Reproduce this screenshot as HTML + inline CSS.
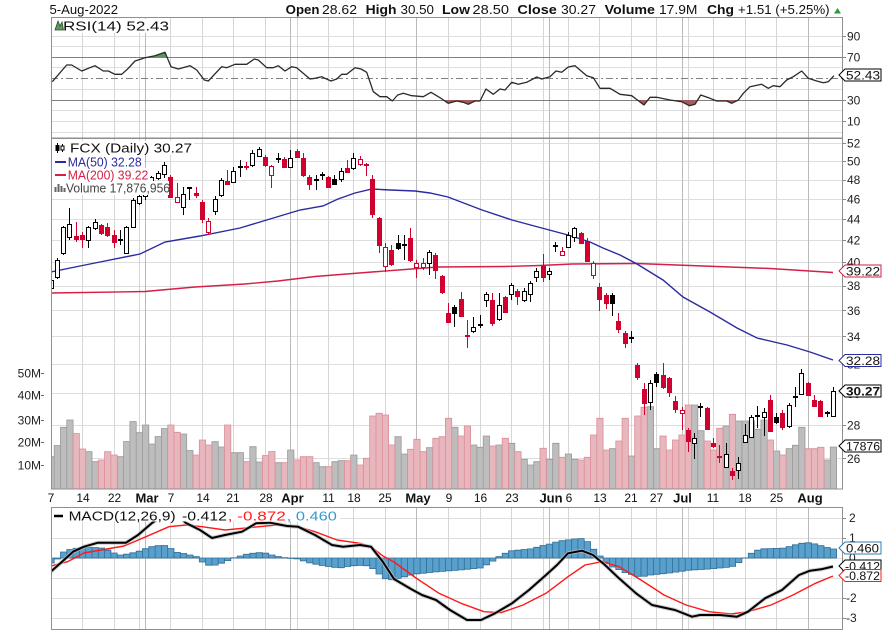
<!DOCTYPE html>
<html><head><meta charset="utf-8"><style>
html,body{margin:0;padding:0;background:#fff;}
svg{display:block;font-family:"Liberation Sans",Arial,sans-serif;}
</style></head><body>
<svg width="882" height="630" viewBox="0 0 882 630" xmlns="http://www.w3.org/2000/svg">
<defs>
<clipPath id="cp"><rect x="51" y="138" width="792" height="351"/></clipPath>
<clipPath id="cr"><rect x="51" y="17" width="792" height="121"/></clipPath>
<clipPath id="cm"><rect x="51" y="507" width="792" height="123"/></clipPath>
</defs>
<rect width="882" height="630" fill="#fff"/>

<!-- horizontal grid -->
<path fill="none" stroke="#dedede" stroke-width="1" shape-rendering="crispEdges" d="M51 36.5H843M51 46.5H843M51 67.5H843M51 89.5H843M51 110.5H843M51 121.5H843M51 132.5H843
M51 143.5H843M51 161.5H843M51 180.5H843M51 199.5H843M51 219.5H843M51 240.5H843M51 262.5H843M51 286.5H843M51 310.5H843M51 336.5H843M51 364.5H843M51 393.5H843M51 425.5H843M51 458.5H843
M51 518.5H843M51 538.5H843M51 558.5H843M51 578.5H843M51 598.5H843M51 618.5H843"/>
<!-- vertical grid weekly -->
<path fill="none" stroke="#d6d6d6" stroke-width="1" shape-rendering="crispEdges" d="M82.5 17V489M114.5 17V489M139.5 17V489M170.5 17V489M202.5 17V489M233.5 17V489M265.5 17V489M297.5 17V489M328.5 17V489M353.5 17V489M385.5 17V489M448.5 17V489M480.5 17V489M511.5 17V489M543.5 17V489M568.5 17V489M599.5 17V489M631.5 17V489M656.5 17V489M688.5 17V489M713.5 17V489M745.5 17V489M776.5 17V489
M82.5 507V630M114.5 507V630M139.5 507V630M170.5 507V630M202.5 507V630M233.5 507V630M265.5 507V630M297.5 507V630M328.5 507V630M353.5 507V630M385.5 507V630M448.5 507V630M480.5 507V630M511.5 507V630M543.5 507V630M568.5 507V630M599.5 507V630M631.5 507V630M656.5 507V630M688.5 507V630M713.5 507V630M745.5 507V630M776.5 507V630"/>
<!-- vertical grid monthly -->
<path fill="none" stroke="#b9b9b9" stroke-width="1" shape-rendering="crispEdges" d="M145.5 17V489M290.5 17V489M416.5 17V489M549.5 17V489M682.5 17V489M808.5 17V489M145.5 507V630M290.5 507V630M416.5 507V630M549.5 507V630M682.5 507V630M808.5 507V630"/>

<!-- RSI panel -->
<g clip-path="url(#cr)">
<path d="M51 57.5H843M51 100.5H843" stroke="#808080" stroke-width="1" shape-rendering="crispEdges"/>
<path d="M51 78.5H843" stroke="#808080" stroke-width="1" stroke-dasharray="7 3 2 3"/>
<polygon points="147,57.3 155,55.7 165,52.3 167.1,57.3" fill="#5f955f"/>
<g fill="#a35a5c">
<polygon points="391,100 392.3,101 393.2,100"/>
<polygon points="442.8,100 448.3,103.3 456.7,101 463.3,102.3 468.3,104.3 475,101 480,101 480.5,100"/>
<polygon points="637.4,100 644,105 647.9,100"/>
<polygon points="670,100 681.7,101.7 689.3,105.7 695,104.3 697.6,100"/>
<polygon points="714.2,100 716.7,101 726.7,101 731.7,103.3 738.3,100"/>
</g>
<polyline fill="none" stroke="#2a2a2a" stroke-width="1.3" stroke-linejoin="round" points="52.3,81.7 66.7,65 71.7,65 81.7,71 95,65.7 103.3,71 108.3,71 115,74.3 121.7,74.3 128.3,68.3 135,61 145,57.7 155,55.7 165,52.3 171,66.7 178.3,69 190,65.7 196.7,70 204.3,80 208.3,81 221.7,66.7 226.7,67.7 235,64.3 246.7,64.3 254.3,59 258.3,60 266.7,67.7 273.3,67.7 278.3,65.7 285,71 291.7,66.7 296.7,67.7 310,79 315,78.3 321.7,76.7 325,78.3 331,81 336.7,79 341.7,74.3 346.7,74.3 355,67.7 361,69 366.7,72.3 373.3,91.7 380,96.7 386.7,96.7 392.3,101 397.7,95 403.3,93.3 411.7,95.7 423.3,96.7 431,92.3 438.3,96.7 442,99 448.3,103.3 456.7,101 463.3,102.3 468.3,104.3 475,101 480,101 486,89 493.3,94.3 500,89 505,90 511.7,82.3 518.3,84.3 526.7,82.3 536.7,77 541.7,79 550,76.7 556,71 561.7,72.3 568.3,67 575,65.7 586.7,75.7 593.3,77.7 600,88.3 610,88.3 620,94.3 631.7,95.7 644,105 650,97.3 656.7,97.3 670,100 681.7,101.7 689.3,105.7 695,104.3 700.7,95 710,98.3 716.7,101 726.7,101 731.7,103.3 738.3,100 743.3,93.3 750,86.7 761.7,84.3 768.3,88.3 773.3,85.7 780,86.7 786.7,80 793.3,76.7 801.7,71 808.3,78.3 816.7,81 823.3,82.7 828.3,81.7 834,75.7"/>
</g>

<!-- Price panel -->
<g clip-path="url(#cp)">
<!-- volume gray -->
<path fill="#bdbdbd" stroke="#999" stroke-width="0.8" d="M47.9 489V456.7h6.3V489zM54.2 489V445.5h6.3V489zM60.5 489V427.3h6.3V489zM66.8 489V420h6.3V489zM85.7 489V451.7h6.3V489zM92 489V461.7h6.3V489zM117.3 489V456.7h6.3V489zM123.6 489V441.5h6.3V489zM129.9 489V421.5h6.3V489zM136.2 489V432.7h6.3V489zM142.5 489V425h6.3V489zM148.8 489V444h6.3V489zM155.1 489V436.5h6.3V489zM161.4 489V428.5h6.3V489zM180.4 489V434h6.3V489zM186.7 489V450.5h6.3V489zM211.9 489V441.7h6.3V489zM218.2 489V447h6.3V489zM230.8 489V452.7h6.3V489zM237.2 489V452.7h6.3V489zM249.8 489V446.7h6.3V489zM256.1 489V462h6.3V489zM275 489V462.7h6.3V489zM287.6 489V450h6.3V489zM312.9 489V462.7h6.3V489zM319.2 489V466.7h6.3V489zM331.8 489V461.7h6.3V489zM338.1 489V460.7h6.3V489zM350.7 489V455h6.3V489zM394.9 489V436.7h6.3V489zM401.2 489V454h6.3V489zM426.5 489V447.7h6.3V489zM451.7 489V427.3h6.3V489zM470.6 489V445h6.3V489zM476.9 489V447.3h6.3V489zM483.2 489V436h6.3V489zM495.9 489V445h6.3V489zM508.5 489V443.3h6.3V489zM521.1 489V459.3h6.3V489zM527.4 489V465h6.3V489zM533.7 489V461.7h6.3V489zM546.3 489V459.3h6.3V489zM552.7 489V443.3h6.3V489zM565.3 489V454h6.3V489zM571.6 489V459.3h6.3V489zM609.4 489V448.7h6.3V489zM628.4 489V456h6.3V489zM647.3 489V406.7h6.3V489zM653.6 489V448.7h6.3V489zM691.5 489V405h6.3V489zM697.8 489V430.7h6.3V489zM723 489V426h6.3V489zM735.6 489V421h6.3V489zM742 489V421h6.3V489zM748.3 489V421h6.3V489zM754.6 489V429.3h6.3V489zM760.9 489V420h6.3V489zM773.5 489V451h6.3V489zM786.1 489V448.7h6.3V489zM792.4 489V445.3h6.3V489zM798.7 489V427.3h6.3V489zM824 489V460h6.3V489zM830.3 489V447h6.3V489z"/>
<!-- volume red -->
<path fill="#e8b6bd" stroke="#dc8d98" stroke-width="0.8" d="M73.1 489V433.5h6.3V489zM79.4 489V449h6.3V489zM98.3 489V460h6.3V489zM104.6 489V451.7h6.3V489zM110.9 489V455h6.3V489zM167.7 489V425h6.3V489zM174 489V432.3h6.3V489zM193 489V455h6.3V489zM199.3 489V440h6.3V489zM205.6 489V445h6.3V489zM224.5 489V425h6.3V489zM243.5 489V461.7h6.3V489zM262.4 489V455.5h6.3V489zM268.7 489V451.5h6.3V489zM281.3 489V462.7h6.3V489zM293.9 489V460h6.3V489zM300.3 489V456.7h6.3V489zM306.6 489V456.7h6.3V489zM325.5 489V466.7h6.3V489zM344.4 489V460.7h6.3V489zM357 489V465h6.3V489zM363.4 489V458.3h6.3V489zM369.7 489V416h6.3V489zM376 489V413.3h6.3V489zM382.3 489V415h6.3V489zM388.6 489V445h6.3V489zM407.5 489V449.3h6.3V489zM413.8 489V439.3h6.3V489zM420.1 489V451.7h6.3V489zM432.8 489V438.3h6.3V489zM439.1 489V436.7h6.3V489zM445.4 489V418.3h6.3V489zM458 489V436h6.3V489zM464.3 489V426h6.3V489zM489.6 489V446h6.3V489zM502.2 489V438.3h6.3V489zM514.8 489V451.7h6.3V489zM540 489V448.3h6.3V489zM559 489V457.3h6.3V489zM577.9 489V460h6.3V489zM584.2 489V457.3h6.3V489zM590.5 489V435h6.3V489zM596.8 489V418.3h6.3V489zM603.1 489V450h6.3V489zM615.8 489V441h6.3V489zM622.1 489V418.3h6.3V489zM634.7 489V416h6.3V489zM641 489V407.3h6.3V489zM659.9 489V436h6.3V489zM666.2 489V450h6.3V489zM672.5 489V440h6.3V489zM678.9 489V435h6.3V489zM685.2 489V405h6.3V489zM704.1 489V441h6.3V489zM710.4 489V450h6.3V489zM716.7 489V428.3h6.3V489zM729.3 489V414.3h6.3V489zM767.2 489V440h6.3V489zM779.8 489V455h6.3V489zM805.1 489V448.7h6.3V489zM811.4 489V448.7h6.3V489zM817.7 489V447.3h6.3V489z"/>
<!-- MA lines -->
<polyline fill="none" stroke="#d41f46" stroke-width="1.4" points="51,293 145,291.5 195,287 245,284 278,281 315,276.5 372,272 405,269.5 438,267 505,266.5 540,265.5 572,264 637,263.5 703,266 770,268.5 833,272.5"/>
<polyline fill="none" stroke="#2b2ba0" stroke-width="1.4" points="51,272 80,266 100,262 140,254 165,242 200,236 240,228 270,219 300,210 323,206 338,199 355,193 372,189 390,190 415,191 430,193 448,197 482,210 512,220 538,227 568,235 590,242 603,248 620,255 637,264 663,280 683,297 710,312 737,328 757,338 787,345 810,352 833,360"/>
<!-- black wicks -->
<path fill="none" stroke="#000" stroke-width="1" shape-rendering="crispEdges" d="M51.5 276V290M57.5 258V279M63.5 226V255M69.5 208V240M88.5 226V248M95.5 219V230M126.5 226V254M133.5 198V228M139.5 194V205M145.5 185V200M151.5 176V184M158.5 171V180M164.5 162V178M183.5 187V215M215.5 196V215M221.5 178V197M233.5 167V183M252.5 150V167M259.5 147V157M290.5 150V168M341.5 168V182M353.5 153V170M429.5 250V275M473.5 317V333M486.5 292V307M499.5 293V321M511.5 283V300M524.5 288V302M530.5 281V302M536.5 268V282M549.5 268V280M568.5 232V248M574.5 227V242M650.5 380V410M694.5 433V459M726.5 443V468M738.5 457V479M745.5 424V443M751.5 415V438M764.5 408V436M789.5 403V428M801.5 369V395M833.5 387V417M334.5 175V185M398.5 235V250M454.5 305V327M612.5 293V316M656.5 372V387M776.5 413V424M120.5 230V245M189.5 187V200M240.5 160V177M278.5 153V163M316.5 175V190M322.5 172V180M404.5 235V260M480.5 315V328M555.5 242V252M631.5 331V343M700.5 403V417M757.5 406V428M795.5 387V407M827.5 411V417"/>
<path fill="none" stroke="#000" stroke-width="2" d="M118 240h5M187 188h5M238 167h5M276 159h5M314 180h5M320 175h5M402 245h5M478 325h5M553 246h5M629 338h5M698 407h5M755 416h5M793 397h5M825 413h5"/>
<!-- red wicks -->
<path fill="none" stroke="#d0002f" stroke-width="1" shape-rendering="crispEdges" d="M177.5 183V203M208.5 218V235M271.5 165V188M360.5 156V166M385.5 243V272M416.5 260V278M423.5 258V270M562.5 247V256M593.5 261V279M682.5 407V430M76.5 222V242M82.5 232V248M101.5 224V235M107.5 223V237M114.5 230V248M170.5 175V198M196.5 187V198M202.5 200V223M227.5 170V185M265.5 155V167M284.5 157V168M297.5 149V158M303.5 153V177M309.5 175V190M328.5 176V188M347.5 160V173M372.5 175V218M379.5 217V253M391.5 245V266M410.5 228V262M435.5 253V279M442.5 275V294M448.5 303V323M461.5 292V317M492.5 293V326M505.5 296V313M517.5 289V305M543.5 254V282M581.5 232V244M587.5 238V262M599.5 283V311M606.5 293V309M618.5 313V333M625.5 331V348M637.5 363V380M644.5 383V415M663.5 363V389M669.5 377V397M675.5 396V413M688.5 428V452M707.5 407V430M713.5 438V448M732.5 468V480M770.5 395V432M782.5 410V430M808.5 382V396M814.5 395V407M820.5 400V417M246.5 162V170M366.5 163V176M467.5 320V348M719.5 445V463"/>
<path fill="none" stroke="#d0002f" stroke-width="2" d="M244 167h5M364 165h5M465 336h5M717 457h5"/>
<!-- black hollow bodies -->
<g fill="#fff" stroke="#000" stroke-width="1" shape-rendering="crispEdges">
<rect x="49.5" y="280.5" width="4" height="8"/><rect x="55.5" y="260.5" width="4" height="17"/><rect x="61.5" y="227.5" width="4" height="26"/><rect x="67.5" y="224.5" width="4" height="13"/><rect x="86.5" y="227.5" width="4" height="13"/><rect x="93.5" y="222.5" width="4" height="6"/><rect x="124.5" y="227.5" width="4" height="26"/><rect x="131.5" y="200.5" width="4" height="27"/><rect x="137.5" y="196.5" width="4" height="7"/><rect x="143.5" y="188.5" width="4" height="8"/><rect x="149.5" y="177.5" width="4" height="5"/><rect x="156.5" y="173.5" width="4" height="5"/><rect x="162.5" y="165.5" width="4" height="9"/><rect x="181.5" y="194.5" width="4" height="13"/><rect x="213.5" y="199.5" width="4" height="12"/><rect x="219.5" y="180.5" width="4" height="15"/><rect x="231.5" y="171.5" width="4" height="11"/><rect x="250.5" y="153.5" width="4" height="12"/><rect x="257.5" y="149.5" width="4" height="7"/><rect x="288.5" y="158.5" width="4" height="9"/><rect x="339.5" y="171.5" width="4" height="8"/><rect x="351.5" y="158.5" width="4" height="10"/><rect x="427.5" y="252.5" width="4" height="11"/><rect x="471.5" y="327.5" width="4" height="4"/><rect x="484.5" y="294.5" width="4" height="6"/><rect x="497.5" y="305.5" width="4" height="14"/><rect x="509.5" y="285.5" width="4" height="9"/><rect x="522.5" y="291.5" width="4" height="9"/><rect x="528.5" y="283.5" width="4" height="11"/><rect x="534.5" y="271.5" width="4" height="6"/><rect x="547.5" y="271.5" width="4" height="3"/><rect x="566.5" y="235.5" width="4" height="12"/><rect x="572.5" y="228.5" width="4" height="9"/><rect x="648.5" y="383.5" width="4" height="19"/><rect x="692.5" y="438.5" width="4" height="5"/><rect x="724.5" y="454.5" width="4" height="13"/><rect x="736.5" y="463.5" width="4" height="7"/><rect x="743.5" y="435.5" width="4" height="7"/><rect x="749.5" y="417.5" width="4" height="20"/><rect x="762.5" y="412.5" width="4" height="5"/><rect x="787.5" y="405.5" width="4" height="21"/><rect x="799.5" y="373.5" width="4" height="21"/><rect x="831.5" y="391.5" width="4" height="25"/>
</g>
<!-- black filled -->
<g fill="#000" stroke="#000" stroke-width="1" shape-rendering="crispEdges">
<rect x="332.5" y="179.5" width="4" height="5"/><rect x="396.5" y="243.5" width="4" height="5"/><rect x="452.5" y="307.5" width="4" height="6"/><rect x="610.5" y="295.5" width="4" height="8"/><rect x="654.5" y="374.5" width="4" height="8"/><rect x="774.5" y="417.5" width="4" height="5"/>
</g>
<!-- red hollow -->
<g fill="#fff" stroke="#d0002f" stroke-width="1" shape-rendering="crispEdges">
<rect x="175.5" y="197.5" width="4" height="5"/><rect x="206.5" y="221.5" width="4" height="11"/><rect x="269.5" y="166.5" width="4" height="9"/><rect x="358.5" y="159.5" width="4" height="5"/><rect x="383.5" y="247.5" width="4" height="19"/><rect x="414.5" y="263.5" width="4" height="4"/><rect x="421.5" y="263.5" width="4" height="4"/><rect x="560.5" y="251.5" width="4" height="4"/><rect x="591.5" y="263.5" width="4" height="12"/><rect x="680.5" y="410.5" width="4" height="3"/>
</g>
<!-- red filled -->
<g fill="#d0002f" stroke="#d0002f" stroke-width="1" shape-rendering="crispEdges">
<rect x="74.5" y="236.5" width="4" height="3"/><rect x="80.5" y="235.5" width="4" height="4"/><rect x="99.5" y="225.5" width="4" height="8"/><rect x="105.5" y="227.5" width="4" height="8"/><rect x="112.5" y="235.5" width="4" height="7"/><rect x="168.5" y="177.5" width="4" height="20"/><rect x="194.5" y="193.5" width="4" height="2"/><rect x="200.5" y="202.5" width="4" height="17"/><rect x="225.5" y="181.5" width="4" height="3"/><rect x="263.5" y="157.5" width="4" height="8"/><rect x="282.5" y="159.5" width="4" height="8"/><rect x="295.5" y="151.5" width="4" height="6"/><rect x="301.5" y="158.5" width="4" height="17"/><rect x="307.5" y="177.5" width="4" height="7"/><rect x="326.5" y="177.5" width="4" height="10"/><rect x="345.5" y="168.5" width="4" height="4"/><rect x="370.5" y="179.5" width="4" height="35"/><rect x="377.5" y="218.5" width="4" height="27"/><rect x="389.5" y="250.5" width="4" height="14"/><rect x="408.5" y="238.5" width="4" height="22"/><rect x="433.5" y="255.5" width="4" height="15"/><rect x="440.5" y="276.5" width="4" height="16"/><rect x="446.5" y="313.5" width="4" height="9"/><rect x="459.5" y="299.5" width="4" height="17"/><rect x="490.5" y="300.5" width="4" height="23"/><rect x="503.5" y="297.5" width="4" height="15"/><rect x="515.5" y="291.5" width="4" height="5"/><rect x="541.5" y="266.5" width="4" height="11"/><rect x="579.5" y="233.5" width="4" height="10"/><rect x="585.5" y="241.5" width="4" height="20"/><rect x="597.5" y="287.5" width="4" height="12"/><rect x="604.5" y="295.5" width="4" height="8"/><rect x="616.5" y="321.5" width="4" height="8"/><rect x="623.5" y="333.5" width="4" height="10"/><rect x="635.5" y="365.5" width="4" height="12"/><rect x="642.5" y="389.5" width="4" height="14"/><rect x="661.5" y="375.5" width="4" height="12"/><rect x="667.5" y="378.5" width="4" height="14"/><rect x="673.5" y="401.5" width="4" height="8"/><rect x="686.5" y="430.5" width="4" height="11"/><rect x="705.5" y="408.5" width="4" height="21"/><rect x="711.5" y="443.5" width="4" height="3"/><rect x="730.5" y="471.5" width="4" height="4"/><rect x="768.5" y="400.5" width="4" height="31"/><rect x="780.5" y="413.5" width="4" height="14"/><rect x="806.5" y="383.5" width="4" height="12"/><rect x="812.5" y="400.5" width="4" height="6"/><rect x="818.5" y="401.5" width="4" height="15"/>
</g>
</g>

<!-- price legend -->
<g>
<rect x="52" y="141" width="142" height="14" fill="#fff"/>
<rect x="52" y="155" width="92" height="13" fill="#fff"/>
<rect x="52" y="168" width="98" height="13" fill="#fff"/>
<rect x="52" y="181" width="117" height="14" fill="#fff"/>
<path d="M57.5 143V153M62.5 144V152" stroke="#000" stroke-width="1"/>
<rect x="55.5" y="145" width="4" height="6" fill="#000"/>
<rect x="61" y="146" width="3" height="4" fill="#fff" stroke="#000" stroke-width="1"/>
<text x="70" y="152.5" font-size="13" textLength="122" lengthAdjust="spacingAndGlyphs" fill="#111">FCX (Daily) 30.27</text>
<path d="M55 162h11" stroke="#2b2ba0" stroke-width="2"/>
<text x="67.7" y="166.5" font-size="13" textLength="74" lengthAdjust="spacingAndGlyphs" fill="#2b2ba0">MA(50) 32.28</text>
<path d="M55 175h11" stroke="#d41f46" stroke-width="2"/>
<text x="67.7" y="179.5" font-size="13" textLength="80.6" lengthAdjust="spacingAndGlyphs" fill="#d41f46">MA(200) 39.22</text>
<path d="M55.5 192V187M58.5 192V184M61.5 192V186M64.5 192V188" stroke="#666" stroke-width="2"/>
<text x="66" y="192.5" font-size="13" textLength="104" lengthAdjust="spacingAndGlyphs" fill="#444">Volume 17,876,956</text>
</g>

<!-- MACD panel -->
<g clip-path="url(#cm)">
<path fill="#5aa0cc" stroke="#2f6e96" stroke-width="0.8" d="M47.9 558V563h6.3V558zM54.2 558V559h6.3V558zM60.5 558V552h6.3V558zM66.8 558V549.5h6.3V558zM73.1 558V548.3h6.3V558zM79.4 558V547.7h6.3V558zM85.7 558V547.5h6.3V558zM92 558V547.5h6.3V558zM98.3 558V548h6.3V558zM104.6 558V550.2h6.3V558zM110.9 558V553h6.3V558zM117.3 558V555h6.3V558zM123.6 558V554.2h6.3V558zM129.9 558V552.8h6.3V558zM136.2 558V551.2h6.3V558zM142.5 558V548.7h6.3V558zM148.8 558V546.7h6.3V558zM155.1 558V545.7h6.3V558zM161.4 558V545.5h6.3V558zM167.7 558V548.5h6.3V558zM174 558V552.4h6.3V558zM180.4 558V553.5h6.3V558zM186.7 558V555h6.3V558zM193 558V556.7h6.3V558zM199.3 558V562h6.3V558zM205.6 558V565.2h6.3V558zM211.9 558V565.1h6.3V558zM218.2 558V563.2h6.3V558zM224.5 558V560.6h6.3V558zM230.8 558V557.8h6.3V558zM237.2 558V556h6.3V558zM243.5 558V554.3h6.3V558zM249.8 558V553.3h6.3V558zM256.1 558V552.7h6.3V558zM262.4 558V553.2h6.3V558zM268.7 558V555h6.3V558zM275 558V556.5h6.3V558zM281.3 558V557.7h6.3V558zM287.6 558V558.3h6.3V558zM293.9 558V558.9h6.3V558zM300.3 558V560.9h6.3V558zM306.6 558V562.9h6.3V558zM312.9 558V564.2h6.3V558zM319.2 558V565.5h6.3V558zM325.5 558V566.5h6.3V558zM331.8 558V567.3h6.3V558zM338.1 558V567.7h6.3V558zM344.4 558V566.5h6.3V558zM350.7 558V565.7h6.3V558zM357 558V565.3h6.3V558zM363.4 558V565.7h6.3V558zM369.7 558V568.6h6.3V558zM376 558V574h6.3V558zM382.3 558V578.7h6.3V558zM388.6 558V579.7h6.3V558zM394.9 558V578.4h6.3V558zM401.2 558V576.8h6.3V558zM407.5 558V575.1h6.3V558zM413.8 558V573.8h6.3V558zM420.1 558V573.2h6.3V558zM426.5 558V572.5h6.3V558zM432.8 558V571.9h6.3V558zM439.1 558V571.4h6.3V558zM445.4 558V570.9h6.3V558zM451.7 558V570.4h6.3V558zM458 558V569.9h6.3V558zM464.3 558V569.2h6.3V558zM470.6 558V568.6h6.3V558zM476.9 558V568h6.3V558zM483.2 558V564.8h6.3V558zM489.6 558V561.1h6.3V558zM495.9 558V556.7h6.3V558zM502.2 558V553.3h6.3V558zM508.5 558V550.8h6.3V558zM514.8 558V550.2h6.3V558zM521.1 558V549.5h6.3V558zM527.4 558V548.9h6.3V558zM533.7 558V547.3h6.3V558zM540 558V545.5h6.3V558zM546.3 558V544.1h6.3V558zM552.7 558V542.1h6.3V558zM559 558V540.7h6.3V558zM565.3 558V539.9h6.3V558zM571.6 558V539h6.3V558zM577.9 558V538.6h6.3V558zM584.2 558V541.6h6.3V558zM590.5 558V549.3h6.3V558zM596.8 558V556h6.3V558zM603.1 558V562.3h6.3V558zM609.4 558V567h6.3V558zM615.8 558V569.6h6.3V558zM622.1 558V572.6h6.3V558zM628.4 558V574.4h6.3V558zM634.7 558V576.3h6.3V558zM641 558V576.2h6.3V558zM647.3 558V575h6.3V558zM653.6 558V574.3h6.3V558zM659.9 558V573.7h6.3V558zM666.2 558V573h6.3V558zM672.5 558V572.1h6.3V558zM678.9 558V571.2h6.3V558zM685.2 558V570.2h6.3V558zM691.5 558V569.8h6.3V558zM697.8 558V569.5h6.3V558zM704.1 558V569.1h6.3V558zM710.4 558V568.6h6.3V558zM716.7 558V568h6.3V558zM723 558V567.4h6.3V558zM729.3 558V566.3h6.3V558zM735.6 558V562.6h6.3V558zM742 558V557.9h6.3V558zM748.3 558V553.3h6.3V558zM754.6 558V550.2h6.3V558zM760.9 558V548.8h6.3V558zM767.2 558V548.6h6.3V558zM773.5 558V548.4h6.3V558zM779.8 558V548.1h6.3V558zM786.1 558V546.7h6.3V558zM792.4 558V544.8h6.3V558zM798.7 558V543.3h6.3V558zM805.1 558V542.8h6.3V558zM811.4 558V543.9h6.3V558zM817.7 558V545.7h6.3V558zM824 558V547.5h6.3V558zM830.3 558V549h6.3V558z"/>
<polyline fill="none" stroke="#ff1a1a" stroke-width="1.4" stroke-linejoin="round" points="51,566 67.5,561.7 84,553 101,550 124,546 146,536.7 169,526.7 186,525 202,526.7 225,530 253,527.3 276,525 298,526.7 315,531.7 337,540 360,543.3 371,546.7 383,556 394,562 416,578 439,593.3 461,603.3 484,611.7 501,612.7 523,605 546,593.3 568,576.7 585,565 602,561.7 619,566.7 641,580 664,595 686,605 709,611.7 731,614 748,611.7 771,605 793,595 815.5,583.3 833,576"/>
<polyline fill="none" stroke="#bbb" stroke-opacity="0.7" stroke-width="4" stroke-linejoin="round" points="51,571.5 62,561.7 73,551.7 84,546.7 98,542.7 112,542.7 126,542.7 138,535 152,523 165,514 178,516 186,523 200,530 212,538 225,535 242,531.7 256,523.3 270,522.7 287,526 298,526.7 315,535 332,545 343,546.7 360,545 371,546.7 383,562 394,579 411,589 422,595 436,600 450,610 467,620 481,620 495,613.3 512,603.3 529,590 546,575 557,565 568,553.3 582,550.7 593,555 605,565 619,578.3 636,593.3 652,605 675,610 692,616.7 700,615 720,615 737,616.7 748,611.7 765,598.3 782,590 799,575 810,570.7 821,569.3 833,566.5"/>
<polyline fill="none" stroke="#000" stroke-width="2" stroke-linejoin="round" points="51,571.5 62,561.7 73,551.7 84,546.7 98,542.7 112,542.7 126,542.7 138,535 152,523 165,514 178,516 186,523 200,530 212,538 225,535 242,531.7 256,523.3 270,522.7 287,526 298,526.7 315,535 332,545 343,546.7 360,545 371,546.7 383,562 394,579 411,589 422,595 436,600 450,610 467,620 481,620 495,613.3 512,603.3 529,590 546,575 557,565 568,553.3 582,550.7 593,555 605,565 619,578.3 636,593.3 652,605 675,610 692,616.7 700,615 720,615 737,616.7 748,611.7 765,598.3 782,590 799,575 810,570.7 821,569.3 833,566.5"/>
</g>
<rect x="52" y="508" width="288" height="13.5" fill="#fff"/>
<path d="M54 516h9" stroke="#000" stroke-width="2.5"/>
<text x="68.6" y="520.5" font-size="13" textLength="107" lengthAdjust="spacingAndGlyphs" fill="#111">MACD(12,26,9)</text>
<text x="182" y="520.5" font-size="13" textLength="45" lengthAdjust="spacingAndGlyphs" fill="#111">-0.412</text>
<text x="227.8" y="520.5" font-size="13" textLength="58" lengthAdjust="spacingAndGlyphs" fill="#ff1a1a">, -0.872</text>
<text x="286.8" y="520.5" font-size="13" textLength="50" lengthAdjust="spacingAndGlyphs" fill="#3399cc">, 0.460</text>

<!-- panel borders -->
<g fill="none" stroke="#8f8f8f" stroke-width="1" shape-rendering="crispEdges">
<rect x="51.5" y="17.5" width="791" height="120.5"/>
<rect x="51.5" y="138.5" width="791" height="350.5"/>
<rect x="51.5" y="507.5" width="791" height="122"/>
</g>

<!-- RSI legend -->
<rect x="52" y="19" width="118" height="14" fill="#fff"/>
<polygon points="55,30 58,21 60,26 62,22 63.5,30" fill="#5f955f" stroke="#2d4a2d" stroke-width="0.8"/>
<text x="63" y="30.5" font-size="13" textLength="106" lengthAdjust="spacingAndGlyphs" fill="#111">RSI(14) 52.43</text>

<!-- header -->
<g font-size="13" fill="#111">
<text x="49.5" y="14" textLength="68.5" lengthAdjust="spacingAndGlyphs">5-Aug-2022</text>
<text x="285.7" y="14" font-weight="bold" textLength="33.8" lengthAdjust="spacingAndGlyphs">Open</text>
<text x="322" y="14" textLength="35" lengthAdjust="spacingAndGlyphs">28.62</text>
<text x="365.6" y="14" font-weight="bold" textLength="30.9" lengthAdjust="spacingAndGlyphs">High</text>
<text x="400.5" y="14" textLength="33.5" lengthAdjust="spacingAndGlyphs">30.50</text>
<text x="442" y="14" font-weight="bold" textLength="28" lengthAdjust="spacingAndGlyphs">Low</text>
<text x="472.5" y="14" textLength="36.5" lengthAdjust="spacingAndGlyphs">28.50</text>
<text x="517.4" y="14" font-weight="bold" textLength="39.4" lengthAdjust="spacingAndGlyphs">Close</text>
<text x="561" y="14" textLength="35" lengthAdjust="spacingAndGlyphs">30.27</text>
<text x="604.6" y="14" font-weight="bold" textLength="50.4" lengthAdjust="spacingAndGlyphs">Volume</text>
<text x="659" y="14" textLength="38.4" lengthAdjust="spacingAndGlyphs">17.9M</text>
<text x="707" y="14" font-weight="bold" textLength="27" lengthAdjust="spacingAndGlyphs">Chg</text>
<text x="738" y="14" textLength="91.6" lengthAdjust="spacingAndGlyphs">+1.51 (+5.25%)</text>
</g>
<polygon points="834,13.5 841,13.5 837.5,8" fill="#2e9a3e"/>

<!-- right axis ticks -->
<path stroke="#888" stroke-width="1" d="M843 36.5h3M843 57.5h3M843 100.5h3M843 121.5h3M843 143.5h3M843 161.5h3M843 180.5h3M843 199.5h3M843 219.5h3M843 240.5h3M843 262.5h3M843 286.5h3M843 310.5h3M843 336.5h3M843 425.5h3M843 458.5h3M843 518.5h3M843 538.5h3M843 598.5h3M843 618.5h3"/>

<!-- right axis labels -->
<g font-size="12" fill="#222">
<text x="847" y="40.5">90</text>
<text x="847" y="61.5">70</text>
<text x="847" y="104.5">30</text>
<text x="847" y="125.5">10</text>
<text x="847" y="147.5">52</text>
<text x="847" y="165.5">50</text>
<text x="847" y="184">48</text>
<text x="847" y="203.5">46</text>
<text x="847" y="223.5">44</text>
<text x="847" y="244.5">42</text>
<text x="847" y="266.5">40</text>
<text x="847" y="290">38</text>
<text x="847" y="315">36</text>
<text x="847" y="341">34</text>
<text x="847" y="368.5">32</text>
<text x="847" y="398">30</text>
<text x="847" y="429.5">28</text>
<text x="847" y="463">26</text>
<text x="849" y="522">2</text>
<text x="849" y="542">1</text>
<text x="849" y="562">0</text>
<text x="846" y="602">-2</text>
<text x="846" y="622">-3</text>
</g>

<!-- left volume labels -->
<g font-size="12" fill="#222" text-anchor="end">
<text x="41" y="377.5">50M</text>
<text x="41" y="399.5">40M</text>
<text x="41" y="424.5">30M</text>
<text x="41" y="446.5">20M</text>
<text x="41" y="469.5">10M</text>
</g>
<path stroke="#666" stroke-width="1" d="M41 373.5h3M41 395.5h3M41 420.5h3M41 442.5h3M41 465.5h3"/>

<!-- tags -->
<g font-size="12" fill="#111">
<path d="M839 75l6-6h36v12h-36z" fill="#fff" stroke="#000"/>
<text x="846" y="79.5" textLength="34" lengthAdjust="spacingAndGlyphs">52.43</text>
<path d="M839 271l6-6h36v12h-36z" fill="#fff" stroke="#d41f46"/>
<text x="846" y="275.5" textLength="34" lengthAdjust="spacingAndGlyphs">39.22</text>
<path d="M839 360.5l6-6h36v12h-36z" fill="#fff" stroke="#2b2ba0"/>
<text x="846" y="365" textLength="34" lengthAdjust="spacingAndGlyphs">32.28</text>
<path d="M839 391l6-6h36v12h-36z" fill="#fff" stroke="#000"/>
<text x="846" y="395.5" font-weight="bold" textLength="34" lengthAdjust="spacingAndGlyphs">30.27</text>
<path d="M839 446l6-6h36v12h-36z" fill="#fff" stroke="#000"/>
<text x="846" y="450.5" textLength="34" lengthAdjust="spacingAndGlyphs">17876</text>
<path d="M839 548l6-6h36v12h-36z" fill="#fff" stroke="#2f7fb0"/>
<text x="846" y="552.5" textLength="33" lengthAdjust="spacingAndGlyphs">0.460</text>
<path d="M839 566l6-6h36v12h-36z" fill="#fff" stroke="#000"/>
<text x="845" y="570.5" textLength="35" lengthAdjust="spacingAndGlyphs">-0.412</text>
<path d="M839 575.5l6-6h36v12h-36z" fill="#fff" stroke="#ff1a1a"/>
<text x="845" y="580" textLength="35" lengthAdjust="spacingAndGlyphs">-0.872</text>
</g>

<!-- x axis labels -->
<g font-size="12" fill="#111" text-anchor="middle">
<text x="51" y="502">7</text>
<text x="83" y="502">14</text>
<text x="114.5" y="502">22</text>
<text x="171" y="502">7</text>
<text x="203" y="502">14</text>
<text x="233" y="502">21</text>
<text x="266" y="502">28</text>
<text x="328.6" y="502">11</text>
<text x="354" y="502">18</text>
<text x="385" y="502">25</text>
<text x="449" y="502">9</text>
<text x="480.5" y="502">16</text>
<text x="512" y="502">23</text>
<text x="569" y="502">6</text>
<text x="600" y="502">13</text>
<text x="631" y="502">21</text>
<text x="656.5" y="502">27</text>
<text x="713" y="502">11</text>
<text x="745" y="502">18</text>
<text x="776.5" y="502">25</text>
</g>
<g font-size="13" font-weight="bold" fill="#111" text-anchor="middle">
<text x="147" y="502.5">Mar</text>
<text x="292.5" y="502.5">Apr</text>
<text x="418" y="502.5">May</text>
<text x="551" y="502.5">Jun</text>
<text x="682.5" y="502.5">Jul</text>
<text x="810" y="502.5">Aug</text>
</g>
</svg>
</body></html>
